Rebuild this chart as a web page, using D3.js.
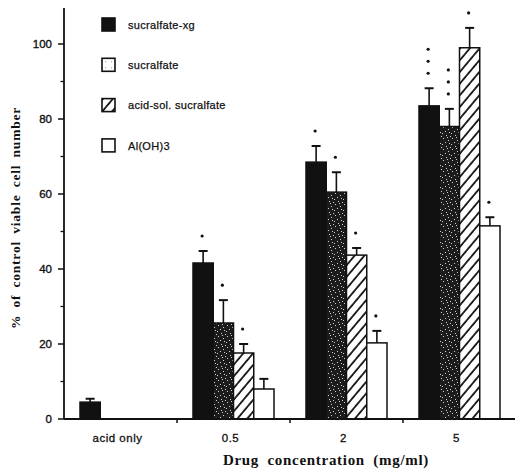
<!DOCTYPE html>
<html>
<head>
<meta charset="utf-8">
<script src="https://cdn.jsdelivr.net/npm/d3@7"></script>
<style>
  body { margin: 0; background: #fff; }
  svg { display: block; }
</style>
</head>
<body>
<div id="chart"></div>
<script>
// ---- data ----
const categories = ["acid only", "0.5", "2", "5"];
const seriesNames = ["sucralfate-xg", "sucralfate", "acid-sol. sucralfate", "Al(OH)3"];

const xgValues   = [4.5, 41.6, 68.5, 83.5];
const sucValues  = [null, 25.6, 60.5, 78];
const acidValues = [null, 17.6, 43.7, 99];
const alValues   = [null, 8, 20.3, 51.5];

const xgErr   = [0.9, 3.2, 4.3, 4.7];
const sucErr  = [null, 6.1, 5.3, 4.7];
const acidErr = [null, 2.4, 1.9, 5.3];
const alErr   = [null, 2.7, 3.2, 2.3];

const xgStars   = [0, 1, 1, 3];
const sucStars  = [0, 1, 1, 3];
const acidStars = [0, 1, 1, 1];
const alStars   = [0, 0, 1, 1];

const yMajorTicks = [0, 20, 40, 60, 80, 100];
const yMinorTicks = [10, 30, 50, 70, 90];

const seriesValues = [xgValues, sucValues, acidValues, alValues];
const seriesErr = [xgErr, sucErr, acidErr, alErr];
const seriesStars = [xgStars, sucStars, acidStars, alStars];

// ---- layout ----
const width = 515, height = 473;
const axisX = 64, axisY = 419;

const svg = d3.select("#chart").append("svg")
  .attr("width", width).attr("height", height);

const defs = svg.append("defs");

// stipple pattern for sucralfate
const stip = defs.append("pattern").attr("id", "stipple")
  .attr("patternUnits", "userSpaceOnUse").attr("width", 9).attr("height", 11);
stip.append("rect").attr("width", 9).attr("height", 11).attr("fill", "#1c1c1c");
[[1,1],[5,3],[2,6],[7,8],[4,10],[8,0],[0,4],[6,5]].forEach(([px, py]) => {
  stip.append("rect").attr("x", px).attr("y", py).attr("width", 1).attr("height", 1)
    .attr("fill", "#cfcfcf");
});
// lighter stipple for legend
const stipL = defs.append("pattern").attr("id", "stippleLight")
  .attr("patternUnits", "userSpaceOnUse").attr("width", 6).attr("height", 6);
stipL.append("rect").attr("width", 6).attr("height", 6).attr("fill", "#fff");
stipL.append("rect").attr("x", 3).attr("y", 3).attr("width", 1).attr("height", 1).attr("fill", "#999");

// hatch pattern for acid-sol.
const hatch = defs.append("pattern").attr("id", "hatch")
  .attr("patternUnits", "userSpaceOnUse").attr("width", 7.5).attr("height", 7.5)
  .attr("patternTransform", "rotate(40)");
hatch.append("rect").attr("width", 7.5).attr("height", 7.5).attr("fill", "#fff");
hatch.append("line").attr("x1", 1).attr("x2", 1).attr("y1", 0).attr("y2", 7.5)
  .attr("stroke", "#111").attr("stroke-width", 1.8);

const fills = ["#111", "url(#stipple)", "url(#hatch)", "#fff"];
const legendFills = ["#111", "url(#stippleLight)", "url(#hatch)", "#fff"];

const y = d3.scaleLinear().domain([0, 110]).range([axisY, 6.5]);
const x0 = d3.scaleBand().domain(categories).range([axisX, 516]).padding(0);
const x1 = d3.scaleBand().domain(seriesNames).range([16, 97]).padding(0);

// ---- bars ----
const barData = [];
seriesNames.forEach((s, si) => {
  categories.forEach((c, ci) => {
    const v = seriesValues[si][ci];
    if (v == null) return;
    barData.push({ s, si, c, v, err: seriesErr[si][ci], stars: seriesStars[si][ci] });
  });
});

const g = svg.append("g");

const barX = d => x0(d.c) + x1(d.s);
const bw = x1.bandwidth();

// error bars (drawn behind bars)
g.selectAll("line.err").data(barData).enter().append("line")
  .attr("x1", d => barX(d) + bw / 2).attr("x2", d => barX(d) + bw / 2)
  .attr("y1", d => y(d.v)).attr("y2", d => y(d.v + d.err))
  .attr("stroke", "#111").attr("stroke-width", 1.6);
g.selectAll("line.cap").data(barData).enter().append("line")
  .attr("x1", d => barX(d) + bw / 2 - 4.5).attr("x2", d => barX(d) + bw / 2 + 4.5)
  .attr("y1", d => y(d.v + d.err)).attr("y2", d => y(d.v + d.err))
  .attr("stroke", "#111").attr("stroke-width", 2);

g.selectAll("rect.bar").data(barData).enter().append("rect")
  .attr("x", d => barX(d))
  .attr("width", bw)
  .attr("y", d => y(d.v))
  .attr("height", d => y(0) - y(d.v))
  .attr("fill", d => fills[d.si])
  .attr("stroke", "#111")
  .attr("stroke-width", 1.5);

// significance stars
barData.forEach(d => {
  for (let k = 0; k < d.stars; k++) {
    g.append("circle")
      .attr("cx", barX(d) + bw / 2 - 1)
      .attr("cy", y(d.v + d.err) - 15 - k * 12)
      .attr("r", 1.6)
      .attr("fill", "#111");
  }
});

// ---- axes ----
const yAxis = svg.append("g").attr("transform", `translate(${axisX},0)`);
yAxis.append("line").attr("x1", 0).attr("x2", 0).attr("y1", 8).attr("y2", axisY)
  .attr("stroke", "#111").attr("stroke-width", 1.8);
yAxis.selectAll("line.maj").data(yMajorTicks).enter().append("line")
  .attr("x1", -6).attr("x2", 0).attr("y1", d => y(d)).attr("y2", d => y(d))
  .attr("stroke", "#111").attr("stroke-width", 1.5);
yAxis.selectAll("line.min").data(yMinorTicks).enter().append("line")
  .attr("x1", -3.5).attr("x2", 0).attr("y1", d => y(d)).attr("y2", d => y(d))
  .attr("stroke", "#111").attr("stroke-width", 1.3);
yAxis.selectAll("text").data(yMajorTicks).enter().append("text")
  .attr("x", -12).attr("y", d => y(d)).attr("dy", "0.36em")
  .attr("text-anchor", "end")
  .attr("font-family", "Liberation Sans, Arial, sans-serif")
  .attr("font-size", "11.5px").attr("fill", "#111")
  .attr("stroke", "#111").attr("stroke-width", 0.35)
  .text(d => d);

const xAxis = svg.append("g");
xAxis.append("line").attr("x1", axisX).attr("x2", width).attr("y1", axisY).attr("y2", axisY)
  .attr("stroke", "#111").attr("stroke-width", 1.8);
xAxis.selectAll("line.tick").data(categories.slice(1)).enter().append("line")
  .attr("x1", d => x0(d)).attr("x2", d => x0(d))
  .attr("y1", axisY).attr("y2", axisY + 4)
  .attr("stroke", "#111").attr("stroke-width", 1.5);
xAxis.selectAll("text").data(categories).enter().append("text")
  .attr("x", d => x0(d) + x0.bandwidth() / 2 - 3)
  .attr("y", 442)
  .attr("text-anchor", "middle")
  .attr("font-family", "Liberation Sans, Arial, sans-serif")
  .attr("font-size", "11.5px").attr("letter-spacing", "0.5px").attr("fill", "#111")
  .attr("stroke", "#111").attr("stroke-width", 0.3)
  .text(d => d);

// axis titles
svg.append("text")
  .attr("x", 326).attr("y", 465)
  .attr("text-anchor", "middle")
  .attr("font-family", "Liberation Serif, Times New Roman, serif")
  .attr("font-weight", "bold").attr("font-size", "15px")
  .attr("letter-spacing", "0.7px").attr("word-spacing", "4px")
  .attr("fill", "#111")
  .text("Drug concentration (mg/ml)");

svg.append("text")
  .attr("transform", "translate(20,218) rotate(-90)")
  .attr("text-anchor", "middle")
  .attr("font-family", "Liberation Serif, Times New Roman, serif")
  .attr("font-weight", "bold").attr("font-size", "13.5px")
  .attr("letter-spacing", "0.8px").attr("word-spacing", "3px")
  .attr("fill", "#111")
  .text("% of control viable cell number");

// ---- legend ----
const legend = svg.append("g").attr("transform", "translate(102,18)");
const li = legend.selectAll("g").data(seriesNames).enter().append("g")
  .attr("transform", (d, i) => `translate(0,${i * 40.3})`);
li.append("rect").attr("width", 13).attr("height", 13)
  .attr("fill", (d, i) => legendFills[i])
  .attr("stroke", "#111").attr("stroke-width", 1.6);
li.append("text").attr("x", 26).attr("y", 7).attr("dy", "0.35em")
  .attr("font-family", "Liberation Sans, Arial, sans-serif")
  .attr("font-size", "11px").attr("letter-spacing", "0.3px").attr("fill", "#111")
  .attr("stroke", "#111").attr("stroke-width", 0.25)
  .text(d => d);
</script>
</body>
</html>
